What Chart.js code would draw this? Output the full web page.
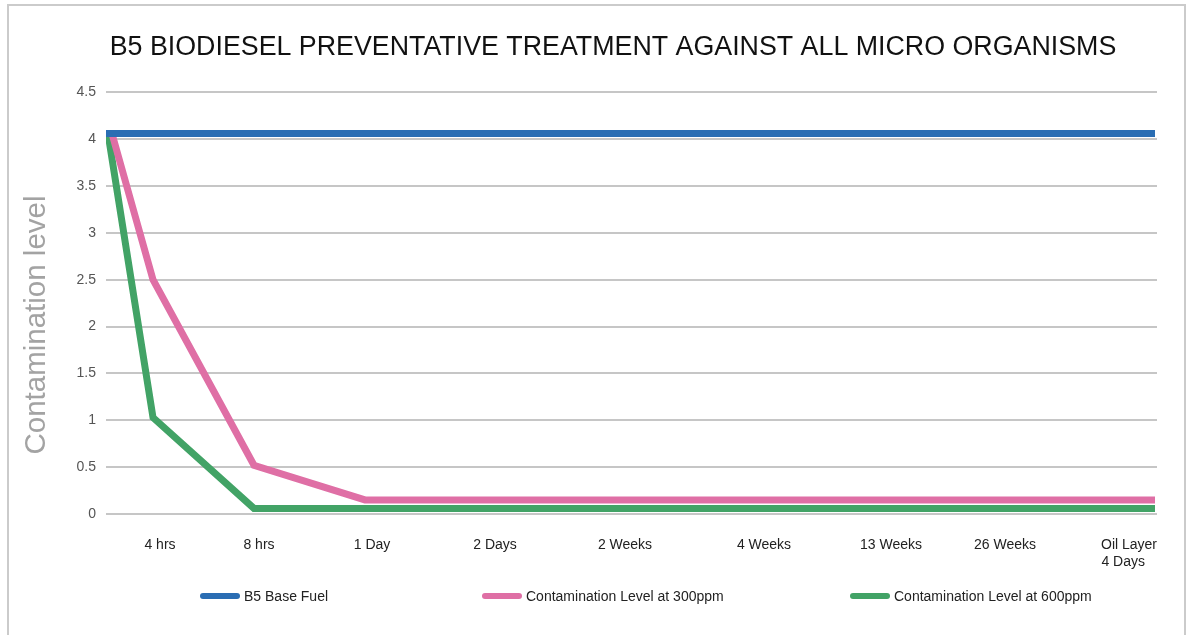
<!DOCTYPE html>
<html>
<head>
<meta charset="utf-8">
<title>B5 Biodiesel preventative treatment</title>
<script src="https://cdn.jsdelivr.net/npm/chart.js@4.4.1/dist/chart.umd.min.js"></script>
<style>
  body { margin: 0; background: #fff; font-family: "Liberation Sans", Arial, sans-serif; }
  #wrap { position: relative; width: 1192px; height: 635px; overflow: hidden; }
  #frame { position: absolute; left: 7px; top: 4px; width: 1175px; height: 700px; border: 2px solid #cbcbcb; }
  #monthChart { position: absolute; left: 0; top: 0; }
  .leg { position: absolute; top: 588px; font-size: 14px; color: #222; white-space: nowrap; line-height: 17px; }
  .leg span { display: inline-block; width: 40px; height: 6px; border-radius: 3px; vertical-align: middle; margin-right: 4px; position: relative; top: -1px; }
</style>
</head>
<body>
<div id="wrap">
  <div id="frame"></div>
  <canvas id="monthChart" width="1192" height="635"></canvas>
  <div id="legend"></div>
</div>
<script>

var chartTitle = 'B5 BIODIESEL PREVENTATIVE TREATMENT AGAINST ALL MICRO ORGANISMS';
var axisTitle = 'Contamination level';

// tick labels under the x axis and where they sit on the axis
var timeLabels = ['4 hrs', '8 hrs', '1 Day', '2 Days', '2 Weeks', '4 Weeks', '13 Weeks', '26 Weeks', ['Oil Layer', '4 Days   ']];
var tickAt = [54, 153, 266, 389, 519, 658, 785, 899, 1023];

// series (x = position along the time axis, y = contamination level)
var baseFuelX = [0, 1049];
var baseFuel = [4.06, 4.06];

var ppm300X = [6, 47, 148, 259, 1049];
var ppm300 = [4.06, 2.5, 0.52, 0.15, 0.15];

var ppm600X = [2, 47, 148, 259, 1049];
var ppm600 = [4.06, 1.03, 0.06, 0.06, 0.06];

var seriesNames = ['B5 Base Fuel', 'Contamination Level at 300ppm', 'Contamination Level at 600ppm'];
var seriesColors = ['#2a6db3', '#df6fa5', '#42a366'];
var legendLeft = [200, 482, 850];

function toPoints(xs, ys) {
  var out = [];
  for (var i = 0; i < xs.length; i++) {
    out.push({ x: xs[i], y: ys[i] });
  }
  return out;
}

// chart title and y axis title, placed off-centre like the original
var titles = {
  id: 'titles',
  afterDraw: function(chart) {
    var ctx = chart.ctx;
    ctx.save();
    ctx.font = '26.8px "Liberation Sans", Arial, sans-serif';
    ctx.fillStyle = '#111';
    ctx.textAlign = 'center';
    ctx.textBaseline = 'middle';
    ctx.fillText(chartTitle, 613, 48);
    ctx.restore();

    ctx.save();
    ctx.translate(37, 325);
    ctx.rotate(-Math.PI / 2);
    ctx.font = '29.5px "Liberation Sans", Arial, sans-serif';
    ctx.fillStyle = '#a3a3a3';
    ctx.textAlign = 'center';
    ctx.textBaseline = 'middle';
    ctx.fillText(axisTitle, 0, 0);
    ctx.restore();
  }
};

function init() {
  Chart.defaults.font.family = '"Liberation Sans", Arial, sans-serif';

  var ctx = document.getElementById('monthChart').getContext('2d');
  var chart = new Chart(ctx, {
    type: 'line',
    data: {
      datasets: [{
        label: seriesNames[0],
        data: toPoints(baseFuelX, baseFuel),
        borderColor: seriesColors[0],
        backgroundColor: seriesColors[0],
        borderWidth: 7
      }, {
        label: seriesNames[1],
        data: toPoints(ppm300X, ppm300),
        borderColor: seriesColors[1],
        backgroundColor: seriesColors[1],
        borderWidth: 7
      }, {
        label: seriesNames[2],
        data: toPoints(ppm600X, ppm600),
        borderColor: seriesColors[2],
        backgroundColor: seriesColors[2],
        borderWidth: 7
      }]
    },
    options: {
      responsive: false,
      animation: false,
      elements: { point: { radius: 0 }, line: { tension: 0 } },
      layout: { padding: { left: 0, right: 35, top: 92.4, bottom: 60 } },
      plugins: {
        legend: { display: false },
        tooltip: { enabled: false },
        title: { display: false }
      },
      scales: {
        x: {
          type: 'linear',
          min: 0,
          max: 1051,
          grid: { display: false },
          border: { display: false },
          afterBuildTicks: function(scale) {
            scale.ticks = tickAt.map(function(v) { return { value: v }; });
          },
          afterFit: function(scale) {
            scale.height = 61;
          },
          ticks: {
            autoSkip: false,
            maxRotation: 0,
            minRotation: 0,
            padding: 15,
            color: '#222',
            font: { size: 14 },
            callback: function(value, index) {
              return timeLabels[index];
            }
          }
        },
        y: {
          min: 0,
          max: 4.5,
          grid: { color: '#c6c6c6', lineWidth: 2, drawTicks: false },
          border: { display: false },
          afterFit: function(scale) {
            scale.width = 106;
          },
          ticks: {
            stepSize: 0.5,
            padding: 10,
            color: '#555',
            font: { size: 14 },
            callback: function(value) {
              return String(value);
            }
          }
        }
      }
    },
    plugins: [titles]
  });

  // legend placed like the original, built from the chart's datasets
  var legend = document.getElementById('legend');
  chart.data.datasets.forEach(function(ds, i) {
    var item = document.createElement('div');
    item.className = 'leg';
    item.style.left = legendLeft[i] + 'px';
    item.innerHTML = '<span style="background:' + ds.borderColor + '"></span>' + ds.label;
    legend.appendChild(item);
  });
}

init();
</script>
</body>
</html>
